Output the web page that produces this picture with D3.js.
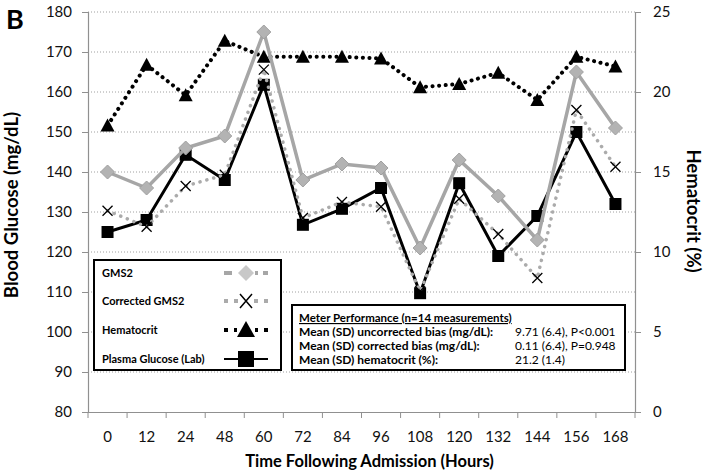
<!DOCTYPE html>
<html><head><meta charset="utf-8">
<script src="https://cdn.jsdelivr.net/npm/d3@7"></script>
<style>body{margin:0;background:#fff}svg{display:block}text{font-family:Lato,"Open Sans",sans-serif}</style>
</head><body><svg id="c" width="704" height="476"></svg>
<script>
const hours = ["0","12","24","48","60","72","84","96","108","120","132","144","156","168"];
const gms2 = [140,136,146,149,175,138,142,141,121,143,134,123,165,151];
const correctedGms2 = [130.3,126.3,136.5,139.3,165.6,128.5,132.5,131.3,110.2,133.3,124.5,113.5,155.5,141.3];
const plasmaGlucose = [125,128,144.3,138,161.8,126.8,130.8,136,109.7,137.2,119,129,150,132];
const hematocrit = [17.9,21.7,19.8,23.2,22.2,22.2,22.2,22.1,20.3,20.5,21.2,19.5,22.2,21.6];
const leftTicks = [80,90,100,110,120,130,140,150,160,170,180];
const rightTicks = [0,5,10,15,20,25];
const legendItems = ["GMS2","Corrected GMS2","Hematocrit","Plasma Glucose (Lab)"];
const statsTitle = "Meter Performance (n=14 measurements)";
const statsLabels = ["Mean (SD) uncorrected bias (mg/dL):","Mean (SD) corrected bias (mg/dL):","Mean (SD) hematocrit (%):"];
const statsValues = ["9.71 (6.4), P<0.001","0.11 (6.4), P=0.948","21.2 (1.4)"];

const svg = d3.select("#c");
const L=88, R=635, T=12, B=412;
const x = d3.scaleBand().domain(hours).range([L,R]);
const y = d3.scaleLinear().domain([80,180]).range([B,T]);
const y2 = d3.scaleLinear().domain([0,25]).range([B,T]);
const cx = d => x(d)+x.bandwidth()/2;

// gridlines
svg.append("g").selectAll("line").data(leftTicks.slice(1)).join("line")
  .attr("x1",L).attr("x2",R).attr("y1",d=>y(d)).attr("y2",d=>y(d))
  .attr("stroke","#a0a0a0").attr("stroke-width",1).attr("stroke-dasharray","1,2");

// axes
const gl = svg.append("g").attr("transform",`translate(${L},0)`)
  .call(d3.axisLeft(y).tickValues(leftTicks).tickSize(6).tickPadding(10));
const gr = svg.append("g").attr("transform",`translate(${R},0)`)
  .call(d3.axisRight(y2).tickValues(rightTicks).tickSize(6).tickPadding(12));
const gb = svg.append("g").attr("transform",`translate(0,${B})`)
  .call(d3.axisBottom(x).tickSize(0).tickPadding(19));
svg.append("g").selectAll("line").data(hours.concat(["end"])).join("line")
  .attr("x1",(d,i)=>L+i*x.bandwidth()).attr("x2",(d,i)=>L+i*x.bandwidth())
  .attr("y1",B).attr("y2",B+6).attr("stroke","#909090");
[gl,gr,gb].forEach(g=>{
  g.selectAll(".domain").attr("stroke","#909090").attr("stroke-width",1.2);
  g.selectAll(".tick line").attr("stroke","#909090");
  g.selectAll("text").attr("font-size",15).attr("fill","#111").style("font-family","Lato, sans-serif");
});
gb.select(".domain").attr("d",`M${L},0.5H${R}`);

// axis titles
svg.append("text").attr("x",369.5).attr("y",467).attr("text-anchor","middle")
  .attr("font-size",16.5).attr("font-weight","bold").text("Time Following Admission (Hours)");
svg.append("text").attr("transform",`translate(18,205) rotate(-90)`).attr("text-anchor","middle")
  .attr("font-size",18.5).attr("font-weight","bold").text("Blood Glucose (mg/dL)");
svg.append("text").attr("transform",`translate(687,211) rotate(90)`).attr("text-anchor","middle")
  .attr("font-size",18.5).attr("font-weight","bold").text("Hematocrit (%)");
svg.append("text").attr("x",6).attr("y",29).attr("font-size",27).attr("font-weight","bold").text("B");

// series
const line = (sc)=>d3.line().x((d,i)=>cx(hours[i])).y(d=>sc(d));
function drawSeries(vals, sc, opts){
  const g = svg.append("g");
  g.append("path").datum(vals).attr("d",line(sc)).attr("fill","none")
    .attr("stroke",opts.color).attr("stroke-width",opts.width)
    .attr("stroke-dasharray",opts.dash||null).attr("stroke-linecap",opts.cap||"butt")
    .attr("stroke-linejoin","miter");
  const m = g.selectAll("g.m").data(vals).join("g")
    .attr("transform",(d,i)=>`translate(${cx(hours[i])},${sc(d)})`);
  opts.marker(m);
}
const mSquare = m=>m.append("rect").attr("x",-6).attr("y",-6).attr("width",12).attr("height",12).attr("fill","#000");
const mDiamond = m=>m.append("path").attr("d","M0,-7L7,0L0,7L-7,0Z").attr("fill","#b3b3b3").attr("stroke","#a0a0a0").attr("stroke-width",1);
const mX = m=>m.append("path").attr("d","M-5,-5L5,5M-5,5L5,-5").attr("stroke","#000").attr("stroke-width",1.3);
const mTri = m=>m.append("path").attr("d","M0,-7L7,6L-7,6Z").attr("fill","#000");

drawSeries(hematocrit, y2, {color:"#000",width:4,dash:"0.1,6.5",cap:"round",marker:mTri});
drawSeries(plasmaGlucose, y, {color:"#000",width:3,marker:mSquare});
drawSeries(gms2, y, {color:"#a6a6a6",width:3.5,marker:mDiamond});
drawSeries(correctedGms2, y, {color:"#ababab",width:3.5,dash:"0.1,7",cap:"round",marker:mX});

// legend box
const lg = svg.append("g");
lg.append("rect").attr("x",94).attr("y",260).attr("width",187).attr("height",110)
  .attr("fill","#fff").attr("stroke","#000").attr("stroke-width",2);
const ly = [273,301,330,359];
const legStyles = [
  {color:"#a6a6a6",dash:"8,5",w:4},
  {color:"#ababab",dash:"4,6",w:4},
  {color:"#000",dash:"4,6",w:4},
  {color:"#000",dash:null,w:2}
];
legendItems.forEach((t,i)=>{
  lg.append("text").attr("x",102).attr("y",ly[i]+4).attr("font-size",11).attr("font-weight","bold").text(t);
  lg.append("line").attr("x1",224).attr("x2",268).attr("y1",ly[i]).attr("y2",ly[i])
    .attr("stroke",legStyles[i].color).attr("stroke-width",legStyles[i].w).attr("stroke-dasharray",legStyles[i].dash);
  const mg = lg.append("g").attr("transform",`translate(246,${ly[i]})`);
  if(i===1){ mg.append("rect").attr("x",-6).attr("y",-7).attr("width",12).attr("height",14).attr("fill","#fff");
    mg.append("path").attr("d","M-6,-7L6,7M-6,7L6,-7").attr("stroke","#000").attr("stroke-width",1.5);}
  else if(i===2){ mg.append("rect").attr("x",-9).attr("y",-9).attr("width",18).attr("height",18).attr("fill","#fff");
    mg.append("path").attr("d","M0,-9L9,7L-9,7Z").attr("fill","#000");}
  else if(i===0){ mg.append("rect").attr("x",-9).attr("y",-9).attr("width",18).attr("height",18).attr("fill","#fff");
    mg.append("path").attr("d","M0,-8L8,0L0,8L-8,0Z").attr("fill","#c8c8c8");}
  else { mg.append("rect").attr("x",-8).attr("y",-8).attr("width",16).attr("height",16).attr("fill","#000"); }
});

// stats box
const sg = svg.append("g");
sg.append("rect").attr("x",292).attr("y",305).attr("width",333).attr("height",65)
  .attr("fill","#fff").attr("stroke","#000").attr("stroke-width",2);
sg.append("text").attr("x",299).attr("y",322).attr("font-size",11.5).attr("font-weight","bold")
  .attr("text-decoration","underline").text(statsTitle);
statsLabels.forEach((t,i)=>{
  sg.append("text").attr("x",299).attr("y",336+i*14).attr("font-size",12).attr("font-weight","bold").text(t);
  sg.append("text").attr("x",515).attr("y",336+i*14).attr("font-size",12).text(statsValues[i]);
});
</script></body></html>
